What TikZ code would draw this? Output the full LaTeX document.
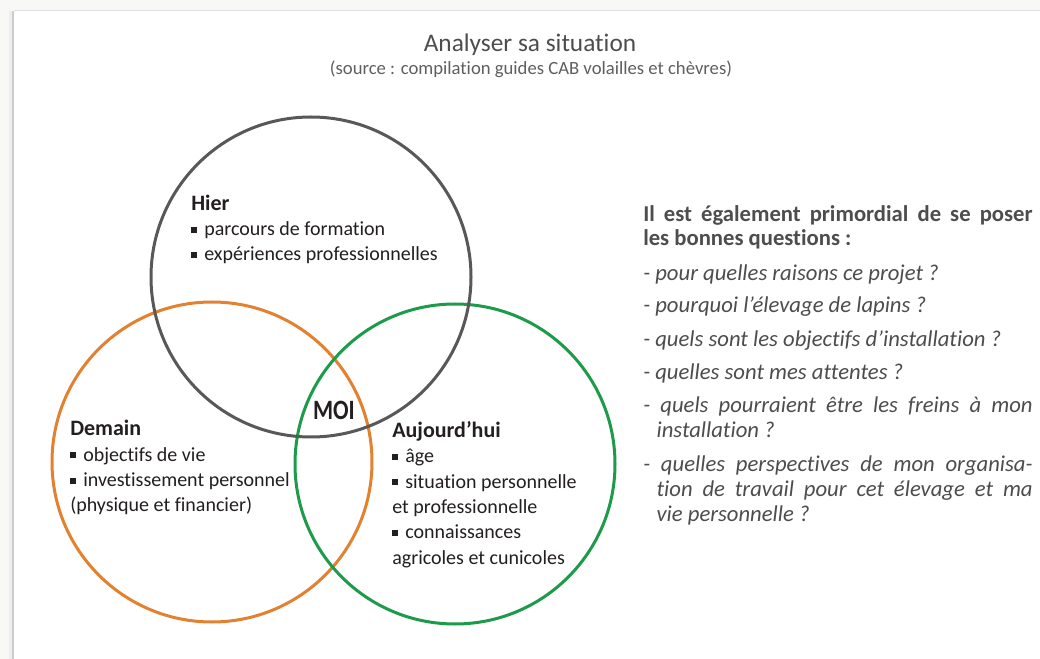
\documentclass[tikz,border=0pt]{standalone}
\usepackage{fontspec}
\usepackage{graphicx}
\setmainfont{Carlito}[Ligatures=NoCommon]
\definecolor{hiercol}{HTML}{58585B}
\definecolor{demaincol}{HTML}{E2812F}
\definecolor{ajdcol}{HTML}{1E9A4B}
\definecolor{textcol}{HTML}{231F20}
\definecolor{greytext}{HTML}{4D4D4F}
\definecolor{pagebg}{HTML}{F8F8F6}
% small square bullet
\newcommand{\puce}{\rule[0.15em]{0.3em}{0.3em}\hspace{0.35em}}
% hanging dash for the questions
\newcommand{\tiret}{\hangindent=10pt\hangafter=1 - }
\hyphenpenalty=10000
\tolerance=10000

\begin{document}
\begin{tikzpicture}[x=0.75pt,y=-0.75pt,
    ring/.style={circle,minimum size=240pt,inner sep=0pt,line width=2.25pt},
    bloc/.style={anchor=base west,inner sep=0pt,align=left,text=textcol,
        font=\fontsize{15}{19}\selectfont},
    question/.style={anchor=base west,inner sep=0pt,text width=292pt,align=justify,
        text=greytext,font=\fontsize{17}{18.75}\selectfont\itshape}]
    \useasboundingbox (0,0) rectangle (1040,659);

    % page behind the sheet, and the shadow of the sheet
    \fill[pagebg] (0,0) rectangle (1040,659);
    \fill[black!7] (9,11) rectangle (12,659);
    \fill[black!20] (12,11) rectangle (14,659);
    \fill[white] (14,10) rectangle (1040,659);
    \draw[black!12,line width=0.5pt] (14,10) -- (1040,10);

    % title
    \node[anchor=base,inner sep=0pt,text=greytext,font=\fontsize{19}{22}\selectfont]
        (titre) at (530,52) {Analyser sa situation};
    \node[anchor=base,inner sep=0pt,text=greytext!90,font=\fontsize{14}{17}\selectfont]
        (source) at (531,75) {(source : compilation guides CAB volailles et chèvres)};

    % the three rings
    \foreach \nom/\pos/\col in {demain/{212,462}/demaincol,
                                aujourdhui/{455,464}/ajdcol,
                                hier/{311,277}/hiercol}
        \node[ring,draw=\col] (\nom) at (\pos) {};

    % what goes in each ring (placed by the baseline of the last line)
    \node[bloc] (txthier) at (191,261)
        {{\fontsize{16.5}{19}\selectfont\bfseries Hier}\\
         \puce parcours de formation\\
         \puce expériences professionnelles};
    \node[bloc] (txtdemain) at (70,512)
        {{\fontsize{16.5}{19}\selectfont\bfseries Demain}\\
         \puce objectifs de vie\\
         \puce investissement personnel\\
         (physique et financier)};
    \node[bloc] (txtaujourdhui) at (392,564)
        {{\fontsize{16.5}{19}\selectfont\bfseries Aujourd’hui}\\
         \puce âge\\
         \puce situation personnelle\\
         et professionnelle\\
         \puce connaissances\\
         agricoles et cunicoles};
    \node[anchor=base,inner sep=0pt,text=textcol,font=\fontsize{21}{22}\selectfont\bfseries]
        (moi) at (334,420) {\scalebox{0.82}[1]{MOI}};

    % the questions on the right
    \node[anchor=base west,inner sep=0pt,text width=292pt,align=justify,text=greytext,
        font=\fontsize{17}{18}\selectfont\bfseries] (entete) at (643,222)
        {Il est également primordial de se poser\linebreak les bonnes questions :};
    \node[question] (q1) at (643,281) {\tiret pour quelles raisons ce projet ?\par};
    \node[question] (q2) at (643,313) {\tiret pourquoi l’élevage de lapins ?\par};
    \node[question] (q3) at (643,347) {\tiret quels sont les objectifs d’installation ?\par};
    \node[question] (q4) at (643,380) {\tiret quelles sont mes attentes ?\par};
    \node[question] (q5) at (643,413) {\tiret quels pourraient être les freins à mon\linebreak installation ?\par};
    \node[question] (q6) at (643,472) {\tiret quelles perspectives de mon organisa-\linebreak tion de travail pour cet élevage et ma\linebreak vie personnelle ?\par};
\end{tikzpicture}
\end{document}
